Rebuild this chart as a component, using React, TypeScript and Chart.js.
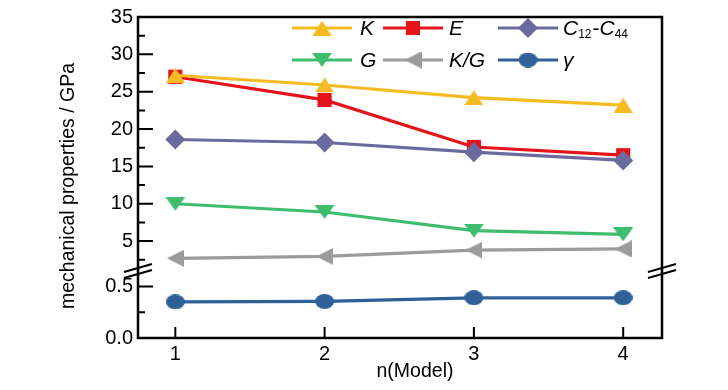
import React, { useEffect, useRef } from 'react';
import { Chart, registerables } from 'chart.js';
import { drawPoint } from 'chart.js/helpers';

Chart.register(...registerables);

// ---- data ----
const models = [1, 2, 3, 4];
const K = [27.2, 25.9, 24.2, 23.2];
const E = [27.0, 23.9, 17.6, 16.5];
const C12C44 = [18.6, 18.2, 16.9, 15.8];
const G = [10.0, 8.9, 6.4, 5.9];
const KG = [2.7, 2.95, 3.8, 3.95];
const gamma = [0.35, 0.355, 0.39, 0.39];

const upperTicks = [5, 10, 15, 20, 25, 30, 35];
const upperMinor = [2.5, 7.5, 12.5, 17.5, 22.5, 27.5, 32.5];
const lowerTicks = [0.0, 0.5];
const lowerMinor = [0.25];
const xTicks = [1, 2, 3, 4];

const FONT = '"Liberation Sans", Arial, sans-serif';

function makeMarker(kind: string, color: string, w: number, h: number) {
  const c = document.createElement('canvas');
  c.width = w;
  c.height = h;
  const ctx = c.getContext('2d')!;
  ctx.fillStyle = color;
  ctx.beginPath();
  if (kind === 'up') {
    ctx.moveTo(w / 2, 0); ctx.lineTo(w, h); ctx.lineTo(0, h);
  } else if (kind === 'down') {
    ctx.moveTo(0, 0); ctx.lineTo(w, 0); ctx.lineTo(w / 2, h);
  } else if (kind === 'left') {
    ctx.moveTo(0, h / 2); ctx.lineTo(w, 0); ctx.lineTo(w, h);
  } else {
    ctx.ellipse(w / 2, h / 2, w / 2, h / 2, 0, 0, Math.PI * 2);
  }
  ctx.closePath();
  ctx.fill();
  return c;
}

export default function App() {
  const ref = useRef<HTMLCanvasElement>(null);

  useEffect(() => {
    document.body.style.margin = '0';
    const cK = '#F5BB22';
    const cE = '#E5141B';
    const cC = '#6A6A9F';
    const cG = '#3DBD6D';
    const cKG = '#9B9B9B';
    const cY = '#2F6198';

    const pts = (arr: number[]) => models.map((x, i) => ({ x, y: arr[i] }));

    const datasets: any[] = [
      { label: 'K', data: pts(K), color: cK, pointStyle: makeMarker('up', cK, 19, 15), order: 0, yAxisID: 'yHigh' },
      { label: 'E', data: pts(E), color: cE, pointStyle: 'rect', pointRadius: 10, order: 2, yAxisID: 'yHigh' },
      { label: 'C12-C44', data: pts(C12C44), color: cC, pointStyle: 'rectRot', pointRadius: 10, order: 1, yAxisID: 'yHigh' },
      { label: 'G', data: pts(G), color: cG, pointStyle: makeMarker('down', cG, 20, 14), order: 3, yAxisID: 'yHigh' },
      { label: 'K/G', data: pts(KG), color: cKG, pointStyle: makeMarker('left', cKG, 17, 17), order: 4, yAxisID: 'yHigh' },
      { label: 'γ', data: pts(gamma), color: cY, pointStyle: makeMarker('ellipse', cY, 19, 15), order: 5, yAxisID: 'yLow' },
    ].map((d) => ({
      ...d,
      borderColor: d.color,
      backgroundColor: d.color,
      pointBackgroundColor: d.color,
      pointBorderColor: d.color,
      pointBorderWidth: 0,
      pointRadius: d.pointRadius ?? 9,
      borderWidth: 3.2,
      fill: false,
      tension: 0,
    }));

    const framePlugin = {
      id: 'frame',
      afterDatasetsDraw(chart: any) {
        const { ctx, chartArea: a } = chart;
        const yH = chart.scales.yHigh;
        const yL = chart.scales.yLow;
        const xs = chart.scales.x;
        ctx.save();
        ctx.strokeStyle = '#000';
        ctx.lineWidth = 2.5;
        ctx.strokeRect(a.left, a.top, a.right - a.left, a.bottom - a.top);
        ctx.lineWidth = 2;
        ctx.beginPath();
        upperTicks.forEach((v) => {
          const y = yH.getPixelForValue(v);
          ctx.moveTo(a.left, y); ctx.lineTo(a.left + 15, y);
        });
        upperMinor.forEach((v) => {
          const y = yH.getPixelForValue(v);
          ctx.moveTo(a.left, y); ctx.lineTo(a.left + 7, y);
        });
        lowerTicks.forEach((v) => {
          const y = yL.getPixelForValue(v);
          ctx.moveTo(a.left, y); ctx.lineTo(a.left + 15, y);
        });
        lowerMinor.forEach((v) => {
          const y = yL.getPixelForValue(v);
          ctx.moveTo(a.left, y); ctx.lineTo(a.left + 7, y);
        });
        xTicks.forEach((v) => {
          const x = xs.getPixelForValue(v);
          ctx.moveTo(x, a.bottom); ctx.lineTo(x, a.bottom - 11);
        });
        ctx.stroke();
        // axis breaks
        const yb = yH.bottom;
        [a.left, a.right].forEach((x) => {
          ctx.beginPath();
          ctx.moveTo(x - 14, yb + 1); ctx.lineTo(x + 14, yb - 7);
          ctx.moveTo(x - 14, yb + 7); ctx.lineTo(x + 14, yb - 1);
          ctx.stroke();
        });
        ctx.restore();
      },
      afterDraw(chart: any) {
        const { ctx } = chart;
        ctx.save();
        // axis titles
        ctx.fillStyle = '#000';
        ctx.font = `19.5px ${FONT}`;
        ctx.textAlign = 'center';
        ctx.textBaseline = 'middle';
        ctx.fillText('n(Model)', 415, 372);
        ctx.save();
        ctx.translate(69, 186);
        ctx.rotate(-Math.PI / 2);
        ctx.fillText('mechanical properties / GPa', 0, 0);
        ctx.restore();
        // legend
        const lineX = [292, 383, 498];
        const textX = [360, 449, 563];
        const rowY = [28, 60];
        chart.data.datasets.forEach((d: any, i: number) => {
          const col = i % 3;
          const row = Math.floor(i / 3);
          const x0 = lineX[col];
          const y = rowY[row];
          ctx.strokeStyle = d.borderColor;
          ctx.lineWidth = 3.2;
          ctx.beginPath();
          ctx.moveTo(x0, y); ctx.lineTo(x0 + 60, y);
          ctx.stroke();
          ctx.fillStyle = d.pointBackgroundColor;
          drawPoint(ctx, { pointStyle: d.pointStyle, radius: d.pointRadius, rotation: 0, borderWidth: 0 }, x0 + 30, y);
          ctx.fillStyle = '#000';
          ctx.textAlign = 'left';
          ctx.textBaseline = 'middle';
          const tx = textX[col];
          if (d.label === 'C12-C44') {
            let x = tx;
            const big = `italic 21px ${FONT}`;
            const small = `12px ${FONT}`;
            const parts: [string, string, number][] = [
              ['C', big, 0], ['12', small, 6], ['-', `21px ${FONT}`, 0], ['C', big, 0], ['44', small, 6],
            ];
            parts.forEach(([t, f, dy]) => {
              ctx.font = f;
              ctx.fillText(t, x, y + 1 + dy);
              x += ctx.measureText(t).width + (f === small ? 1 : 0);
            });
          } else {
            ctx.font = `italic 21px ${FONT}`;
            ctx.fillText(d.label, tx, y + 1);
          }
        });
        ctx.restore();
      },
    };

    const tickFont = { family: FONT, size: 20 };

    const chart = new Chart(ref.current!, {
      type: 'line',
      data: { datasets },
      options: {
        animation: false,
        responsive: false,
        devicePixelRatio: 1,
        events: [],
        layout: { padding: { top: 13, right: 66, left: 0, bottom: 0 } },
        plugins: { legend: { display: false }, tooltip: { enabled: false } },
        scales: {
          x: {
            type: 'linear',
            min: 0.75,
            max: 4.26,
            afterBuildTicks: (s: any) => { s.ticks = xTicks.map((v) => ({ value: v })); },
            afterFit: (s: any) => { s.height = 52; },
            ticks: { font: tickFont, color: '#000', padding: 4, autoSkip: false, maxRotation: 0, callback: (v: any) => String(v) },
            grid: { display: true, drawOnChartArea: false, drawTicks: false },
            border: { display: false },
          },
          yLow: {
            type: 'linear',
            position: 'left',
            stack: 'main',
            stackWeight: 1,
            min: 0,
            max: 0.65,
            afterBuildTicks: (s: any) => { s.ticks = lowerTicks.map((v) => ({ value: v })); },
            afterFit: (s: any) => { s.width = 138; },
            ticks: { font: tickFont, color: '#000', padding: 5, autoSkip: false, callback: (v: any) => Number(v).toFixed(1) },
            grid: { display: true, drawOnChartArea: false, drawTicks: false },
            border: { display: false },
          },
          yHigh: {
            type: 'linear',
            position: 'left',
            stack: 'main',
            stackWeight: 3.79,
            min: 1,
            max: 35,
            afterBuildTicks: (s: any) => { s.ticks = upperTicks.map((v) => ({ value: v })); },
            afterFit: (s: any) => { s.width = 138; },
            ticks: { font: tickFont, color: '#000', padding: 5, autoSkip: false, callback: (v: any) => String(v) },
            grid: { display: true, drawOnChartArea: false, drawTicks: false },
            border: { display: false },
          },
        },
      } as any,
      plugins: [framePlugin],
    });
    return () => chart.destroy();
  }, []);

  return (
    <div style={{ width: 728, height: 390, background: '#fff' }}>
      <canvas ref={ref} width={728} height={390} />
    </div>
  );
}
